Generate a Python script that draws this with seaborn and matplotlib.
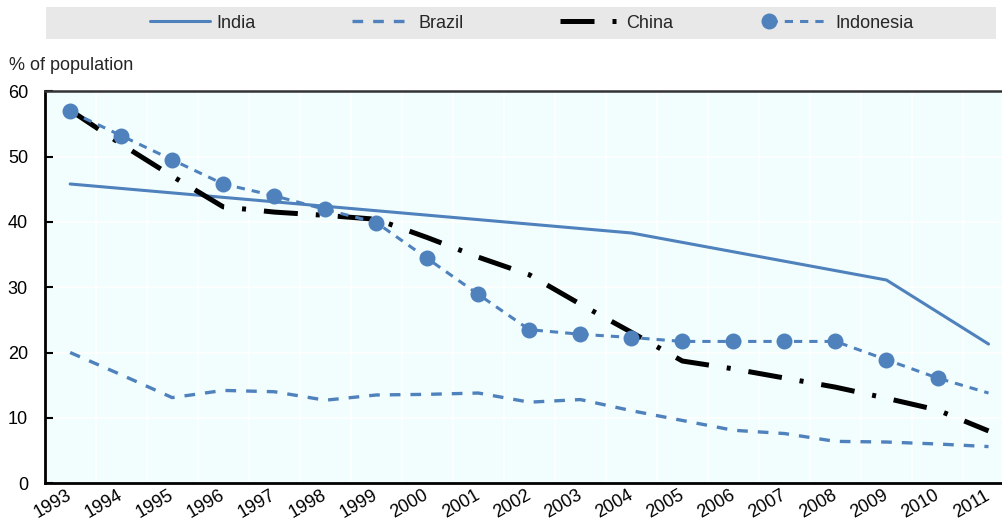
import numpy as np
import pandas as pd
import matplotlib
matplotlib.use("Agg")
import matplotlib.pyplot as plt
import seaborn as sns
from matplotlib.patches import Rectangle
from matplotlib.legend_handler import HandlerLine2D

# data (% of population)
years = ['1993', '1994', '1995', '1996', '1997', '1998', '1999', '2000', '2001', '2002',
         '2003', '2004', '2005', '2006', '2007', '2008', '2009', '2010', '2011']
nan = np.nan
india = [45.8, nan, nan, nan, nan, nan, nan, nan, nan, nan,
         nan, 38.3, nan, nan, nan, nan, 31.1, nan, 21.3]
brazil = [20.0, 16.6, 13.1, 14.2, 14.0, 12.7, 13.5, 13.6, 13.8, 12.4,
          12.8, 11.1, 9.6, 8.1, 7.6, 6.4, 6.3, 6.0, 5.6]
china = [57.1, 51.9, 47.0, 42.3, 41.5, 41.0, 40.4, 37.6, 34.6, 31.9,
         27.4, 23.1, 18.7, 17.5, 16.1, 14.7, 13.0, 11.2, 8.0]
indonesia = [56.9, 53.2, 49.5, 45.8, 44.0, 41.9, 39.9, 34.4, 28.9, 23.5,
             22.8, 22.3, 21.7, 21.7, 21.7, 21.7, 18.9, 16.1, 13.8]

df = pd.DataFrame({'pos': np.arange(len(years)), 'India': india, 'Brazil': brazil,
                   'China': china, 'Indonesia': indonesia})

sns.set_theme(style='white')
plt.rcParams['font.family'] = ['Liberation Sans', 'DejaVu Sans']
fs = 13


class LeftMarker(HandlerLine2D):
    # marker at the left end of the legend line, like the original
    def create_artists(self, *args, **kwargs):
        artists = super().create_artists(*args, **kwargs)
        artists[0].set_markevery([0])
        return artists


blue = '#4F81BD'
fig = plt.figure(figsize=(10.03, 5.24), dpi=100)
ax = fig.add_axes([0.0445, 0.0779, 0.9665, 0.748])
ax.set_facecolor('#F2FEFE')

d = df.dropna(subset=['India'])
sns.lineplot(x=d['pos'], y=d['India'], ax=ax, color=blue, lw=2.2, label='India')
sns.lineplot(x=df['pos'], y=df['Brazil'], ax=ax, color=blue, lw=2.4,
             linestyle=(0, (3.2, 3.0)), label='Brazil')
sns.lineplot(x=df['pos'], y=df['China'], ax=ax, color='black', lw=3.6,
             linestyle=(0, (6.8, 3.6, 0.8, 3.6)), label='China')
sns.lineplot(x=df['pos'], y=df['Indonesia'], ax=ax, color=blue, lw=2.2,
             linestyle=(0, (2.7, 2.3)), marker='o', markersize=11.5,
             markeredgewidth=0, markevery=list(range(len(years) - 1)), label='Indonesia')

ax.set_xlim(-0.5, len(years) - 0.5)
ax.set_ylim(0, 60)
ax.set_yticks(range(0, 61, 10))
ax.set_xticks(np.arange(len(years)))
ax.set_xticklabels(years, rotation=30, ha='right', va='center', rotation_mode='anchor')
ax.set_xticks(np.arange(0.5, len(years) - 1, 1), minor=True)
ax.tick_params(axis='x', which='major', length=0, pad=8, labelsize=fs, colors='black')
ax.tick_params(axis='x', which='minor', direction='in', length=6, width=1.5, color='black')
ax.tick_params(axis='y', direction='in', length=6, width=1.5, pad=12, labelsize=fs,
               colors='black', left=True)
ax.set_xlabel('')
ax.set_ylabel('')

ax.set_axisbelow(True)
ax.grid(axis='y', which='major', color='white', lw=1.2)
ax.grid(axis='x', which='minor', color='white', lw=1.2)

for side in ['left', 'bottom']:
    ax.spines[side].set_color('black')
    ax.spines[side].set_linewidth(2)
ax.spines['top'].set_color('#333333')
ax.spines['top'].set_linewidth(1.8)
ax.spines['right'].set_visible(False)

# legend band
fig.add_artist(Rectangle((46 / 1003, 1 - 39 / 524), 950 / 1003, 32 / 524,
                         transform=fig.transFigure, facecolor='#E8E8E8',
                         edgecolor='none', zorder=0))
handles, labels = ax.get_legend_handles_labels()
ax.get_legend().remove()
fig.legend(handles, labels, loc='center left', bbox_to_anchor=(150 / 1003, 1 - 23 / 524),
           ncol=4, frameon=False, fontsize=fs, handlelength=3.3, handletextpad=0.4,
           columnspacing=5.3, borderpad=0, borderaxespad=0,
           handler_map={handles[3]: LeftMarker()})

fig.text(9 / 1003, 1 - 66 / 524, '% of population', fontsize=fs, ha='left', va='center')

fig.savefig('out.png', dpi=100)
